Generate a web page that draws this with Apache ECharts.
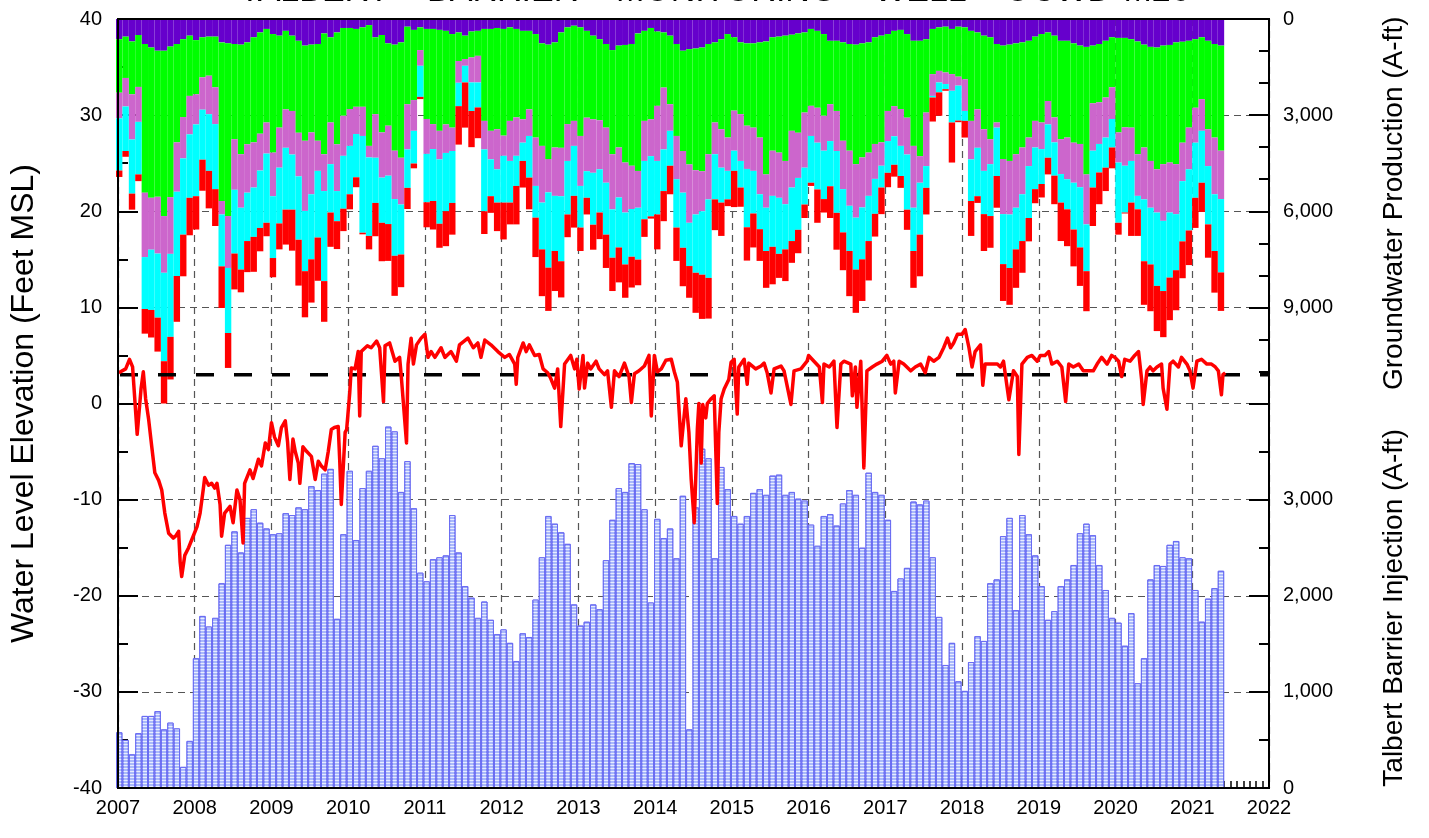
<!DOCTYPE html>
<html>
<head>
<meta charset="utf-8">
<script src="https://cdn.jsdelivr.net/npm/echarts@6/dist/echarts.min.js"></script>
<style>
html,body{margin:0;padding:0;background:#fff;}
#chart{width:1429px;height:838px;}
</style>
</head>
<body>
<div id="chart"></div>
<script>
// ---------- DATA ----------
const titleText = 'TALBERT    BARRIER    MONITORING    WELL    OCWD-M26';
const firstYear = 2007, lastYear = 2022;
const yearTicks = [2007,2008,2009,2010,2011,2012,2013,2014,2015,2016,2017,2018,2019,2020,2021,2022];
const referenceLevel = 3;

// Monthly groundwater production (A-ft), Jan 2007 - May 2021, stacked from top
const prodPurple = [630,550,700,500,780,890,990,990,860,780,630,520,
660,570,550,550,730,760,780,800,730,570,420,310,
470,520,370,520,680,830,800,780,450,570,420,280,
280,310,260,190,570,500,760,800,730,240,340,260,
310,310,340,370,470,420,520,390,370,310,310,280,
310,260,310,370,370,470,760,800,730,420,260,210,
260,370,520,630,780,970,830,810,780,450,370,280,
390,420,520,780,990,940,920,890,780,730,630,470,
570,730,760,760,730,700,570,550,520,490,450,420,
310,370,470,680,680,730,780,800,760,730,570,520,
470,370,340,470,680,680,630,310,260,240,310,240,
260,370,420,520,570,780,830,800,760,730,680,550,
470,420,520,680,680,760,830,870,830,780,680,570,
590,590,630,700,800,870,890,830,810,730,710,680,
630,570,680,780,830];
const prodGreen = [1670,1290,1650,1620,4640,4690,4560,5160,4700,3070,2430,1880,
1690,1250,1220,1580,4950,5390,2970,3420,3180,3280,3160,2920,
3700,2870,2450,2350,2870,2970,2740,3020,3770,2660,3490,2740,
2530,2430,2480,3770,2400,3040,2570,3310,3600,2420,2190,710,
2810,2970,3150,2920,2920,890,730,810,780,2870,3180,3160,
3330,2920,2760,2760,2450,3230,3200,3570,3280,3600,3020,2970,
3390,2710,2610,2530,2610,3250,3180,3670,3800,4290,2810,2850,
2320,1720,2140,2870,3130,3600,3800,3860,3440,2500,2810,3230,
2290,2240,2570,2630,2970,4150,3540,3620,3910,3000,3100,2500,
2400,2400,2550,1980,2190,3070,3330,3730,3560,3440,3330,3330,
2400,2350,2470,2610,3280,3600,2290,1410,1360,1430,1410,1560,
1620,2810,2400,2920,3180,2450,3540,3630,3460,3280,3020,2630,
2760,2140,2550,3070,3020,3100,3070,3980,1800,1820,1770,1560,
2950,2790,2760,3520,3210,3560,3800,3700,3670,3800,3150,2710,
2140,1930,2760,2920,3280];
const prodOrchid = [800,890,1410,1090,2010,1620,1770,1770,1770,1540,1290,1200,
940,1010,1200,1150,420,1620,1580,1670,1510,1410,1150,970,
1360,1250,1200,1360,1360,2190,1930,940,1150,1300,1460,1250,
1150,850,910,360,1360,1410,1560,1510,1460,1410,960,490,
1090,780,890,890,730,680,210,780,830,890,890,1250,
630,1250,1200,730,830,1510,1770,1040,1510,1510,1150,780,
1560,1670,1670,1530,1720,1720,1560,1560,1350,1150,1250,1150,
1720,1930,830,1350,1300,1820,1380,1250,1410,990,1200,1040,
1250,1460,1350,1350,1770,1040,1410,1410,1350,1770,1410,1720,
940,1090,1090,1150,1250,1510,1720,1670,1560,1350,1090,730,
940,940,1150,1150,1930,830,1670,680,360,360,520,280,
990,1200,1200,1300,780,160,1720,1670,1670,1460,890,830,
830,730,780,1090,1300,1250,1350,1560,1480,1300,1250,990,
940,1200,1040,1300,1620,1460,1350,1770,1560,1560,1200,1300,
1090,990,1150,1770,1510];
const prodCyan = [1630,1390,1690,1640,1620,1880,2000,2760,2590,2630,2380,1980,
2240,1560,1770,2030,1620,2030,1990,1930,1510,1540,1790,2160,
1930,1740,1930,1720,1980,1880,2030,2080,2810,1510,940,1650,
1510,1350,3020,2450,1410,1410,1510,1770,1560,1200,1020,970,
1510,1620,2010,1820,1620,730,520,890,780,1930,1150,1040,
1460,1300,940,570,1300,990,1460,2350,1720,2030,1670,1560,
1300,830,1620,1350,1620,1510,1560,1620,1490,1620,1820,1880,
1670,1300,1090,1510,1720,1350,1820,1980,2450,1410,1090,890,
630,830,1820,1330,1090,1350,1590,1750,1410,1670,1620,1150,
1460,1460,1510,1410,1930,1350,1410,1620,1620,1410,1090,680,
990,890,940,1720,1350,1620,680,50,310,160,990,1090,
310,1300,1510,1350,1620,1510,1560,1670,1300,1460,1620,1300,
1090,1040,1040,890,940,1460,1880,1460,1150,890,940,890,
1880,1460,1300,420,1930,1770,2290,2190,2030,1750,1880,1910,
1720,1620,1820,1770,2290];
const prodRed = [200,180,500,210,770,860,1060,1440,1330,1430,1300,1170,
1040,970,1170,1150,1300,1090,1120,710,970,1090,730,420,
600,810,1090,1280,1430,1440,1350,1350,1270,1070,870,700,
470,310,50,420,1040,1200,1150,1250,1020,660,150,70,
780,890,750,1090,990,1200,1410,1130,960,710,520,890,
1150,680,1200,830,990,1230,1460,1350,1250,1130,710,990,
730,520,780,830,1040,1040,1090,1040,960,800,550,70,
1090,940,890,1040,1200,990,1250,1380,1270,960,1040,210,
1130,600,1040,1060,990,1150,1170,750,990,680,730,420,
100,1040,420,990,1150,1180,1410,1350,1300,1230,710,830,
450,370,370,630,1150,1300,830,750,730,50,1250,50,
520,1090,210,1150,990,990,1150,1150,1200,990,730,440,
420,520,890,1200,1150,1150,1200,1250,1200,990,730,650,
370,30,1040,830,1360,1460,1410,1440,1330,1250,1150,1080,
940,910,1040,1300,1200];

// Monthly Talbert Barrier injection (A-ft), Jan 2007 - May 2021
const injection = [580,500,350,570,750,750,800,610,680,620,220,490,
1350,1790,1680,1770,2130,2530,2670,2450,2810,2900,2760,2700,
2640,2650,2860,2840,2920,2900,3140,3100,3270,3320,1760,2640,
3300,2580,3120,3300,3560,3430,3760,3710,3080,3400,2910,2240,
2150,2380,2400,2420,2840,2450,2100,1980,1770,1940,1750,1600,
1650,1510,1320,1610,1570,1960,2400,2830,2750,2660,2540,1910,
1690,1730,1910,1860,2370,2790,3120,3080,3380,3370,2900,1930,
2800,2600,2700,2390,3040,610,2920,3530,3430,2390,3340,3110,
2830,2750,2830,3070,3110,3050,3250,3260,3050,3080,3010,2990,
2740,2520,2830,2850,2730,2960,3100,3050,2500,3280,3080,3050,
2790,2050,2180,2290,2980,2950,2990,2400,1780,1280,1510,1110,
1010,1310,1580,1530,2130,2170,2620,2810,1850,2840,2640,2420,
2100,1750,1840,2100,2170,2320,2650,2750,2630,2320,2060,1770,
1720,1480,1820,1090,1350,2170,2320,2310,2530,2570,2400,2390,
2060,1730,1970,2080,2260];

// Water level elevation (feet MSL)
const wlYear = [2007.01,2007.10,2007.15,2007.19,2007.25,2007.30,2007.33,2007.36,2007.40,2007.44,2007.48,2007.53,2007.57,2007.61,2007.66,2007.72,2007.75,2007.79,2007.81,2007.83,2007.87,2007.92,2007.96,
2008.03,2008.07,2008.11,2008.13,2008.18,2008.22,2008.26,2008.29,2008.33,2008.35,2008.39,2008.46,2008.50,2008.55,2008.59,2008.63,2008.65,2008.72,2008.76,2008.83,2008.87,2008.92,2008.96,
2009.00,2009.04,2009.09,2009.13,2009.18,2009.21,2009.24,2009.28,2009.31,2009.35,2009.37,2009.41,2009.46,2009.52,2009.57,2009.61,2009.65,2009.70,2009.74,2009.78,2009.82,2009.87,2009.89,2009.91,2009.96,2009.98,
2010.02,2010.04,2010.09,2010.13,2010.15,2010.17,2010.25,2010.30,2010.37,2010.41,2010.46,2010.48,2010.54,2010.61,2010.67,2010.69,2010.76,2010.78,2010.82,2010.85,2010.89,2010.95,
2011.00,2011.04,2011.08,2011.13,2011.21,2011.26,2011.34,2011.41,2011.45,2011.56,2011.63,2011.69,2011.73,2011.78,2011.86,2011.95,
2012.04,2012.10,2012.17,2012.19,2012.21,2012.28,2012.32,2012.36,2012.43,2012.49,2012.54,2012.60,2012.64,2012.69,2012.73,2012.77,2012.82,2012.90,2012.95,2012.98,
2013.01,2013.06,2013.08,2013.12,2013.16,2013.23,2013.27,2013.34,2013.38,2013.43,2013.47,2013.53,2013.60,2013.66,2013.69,2013.73,2013.79,2013.86,2013.92,2013.95,2013.99,
2014.03,2014.08,2014.14,2014.21,2014.25,2014.29,2014.34,2014.40,2014.44,2014.47,2014.51,2014.55,2014.57,2014.60,2014.62,2014.66,2014.68,2014.73,2014.77,2014.79,2014.81,2014.83,2014.86,2014.90,2014.96,2014.99,
2015.03,2015.07,2015.09,2015.16,2015.20,2015.22,2015.31,2015.38,2015.42,2015.46,2015.51,2015.55,2015.64,2015.68,2015.77,2015.81,2015.90,2015.98,
2016.00,2016.07,2016.14,2016.18,2016.20,2016.27,2016.33,2016.37,2016.42,2016.46,2016.55,2016.57,2016.61,2016.63,2016.68,2016.72,2016.76,2016.83,2016.89,2016.96,
2017.02,2017.07,2017.11,2017.13,2017.18,2017.24,2017.33,2017.39,2017.46,2017.52,2017.57,2017.63,2017.70,2017.76,2017.81,2017.85,2017.89,2017.94,
2018.00,2018.04,2018.09,2018.13,2018.17,2018.24,2018.27,2018.30,2018.37,2018.46,2018.50,2018.54,2018.61,2018.67,2018.72,2018.74,2018.78,2018.85,2018.91,2018.98,
2019.02,2019.08,2019.13,2019.17,2019.24,2019.30,2019.35,2019.39,2019.45,2019.52,2019.58,2019.65,2019.71,2019.76,2019.82,2019.89,2019.95,2019.99,
2020.04,2020.08,2020.12,2020.19,2020.25,2020.30,2020.34,2020.36,2020.41,2020.45,2020.49,2020.54,2020.60,2020.62,2020.67,2020.71,2020.75,2020.82,2020.86,2020.93,2020.97,
2021.01,2021.06,2021.12,2021.19,2021.25,2021.30,2021.34,2021.38,2021.40,2021.43];
const wlLevel = [3.2,3.6,4.6,3.8,-3.2,1.5,3.3,0.5,-1.7,-4.5,-7.2,-8.0,-9.0,-11.4,-13.5,-14.0,-13.8,-13.3,-16.5,-18.0,-15.8,-15.0,-14.2,
-12.8,-11.4,-9.0,-7.7,-8.5,-8.3,-8.8,-8.3,-10.5,-13.8,-11.4,-10.7,-12.4,-9.0,-10.0,-14.5,-8.3,-6.9,-7.8,-5.8,-6.5,-4.1,-4.8,
-2.0,-3.5,-4.4,-2.5,-1.8,-4.0,-7.9,-3.7,-5.0,-6.2,-8.3,-4.5,-5.0,-5.5,-7.9,-6.0,-6.5,-6.9,-5.0,-2.7,-2.5,-2.4,-6.0,-10.5,-3.0,-2.7,
1.1,3.7,3.6,5.4,-1.3,5.4,6.0,5.8,6.5,5.8,0.2,6.0,6.3,4.4,4.8,3.0,-4.1,4.1,6.8,4.1,6.1,6.8,
7.2,4.8,5.4,4.8,5.8,4.8,5.4,4.4,6.1,6.8,5.8,6.3,4.8,6.6,6.1,5.4,
4.8,5.1,4.1,2.0,4.8,6.3,5.4,6.1,5.0,5.1,3.6,3.2,2.6,1.6,3.6,-2.4,4.1,5.0,3.6,4.6,
1.5,5.0,1.6,4.2,3.6,4.4,3.6,3.0,3.4,-0.4,3.4,2.8,4.2,2.8,0.1,3.1,3.4,3.9,5.0,-1.3,5.0,
3.3,3.6,4.5,4.6,3.3,2.2,-4.4,0.5,-3.0,-7.9,-12.4,-2.7,0.0,-6.2,-0.1,-1.5,0.0,0.5,0.8,1.0,-10.4,-3.0,0.5,1.5,2.5,4.3,
4.6,-1.1,3.8,4.6,2.0,4.2,3.6,3.9,4.2,3.2,1.1,3.6,3.9,3.4,-0.1,3.4,3.6,4.4,
5.0,4.4,3.8,0.1,4.1,3.8,4.4,-2.5,4.1,4.4,4.1,0.8,3.8,-0.4,4.4,-6.7,3.4,3.8,4.1,4.4,
5.0,4.1,4.4,1.1,4.4,4.1,3.4,3.8,4.1,3.2,4.8,4.4,4.8,5.8,6.8,5.8,6.3,7.2,
7.2,7.7,5.8,3.8,5.4,6.1,1.9,4.1,4.1,4.1,3.8,4.4,0.4,3.4,2.8,-5.3,4.1,4.8,5.0,4.4,
5.0,5.0,5.4,4.1,4.4,3.8,0.2,4.1,3.8,4.1,3.4,3.4,3.4,4.1,4.8,4.1,5.0,4.8,
4.4,2.8,4.6,4.4,5.0,5.4,2.5,-0.1,3.4,3.8,3.4,3.8,4.1,1.6,-0.6,4.1,4.4,3.8,4.8,4.1,3.4,
1.6,4.4,4.6,4.1,4.1,3.8,3.4,0.9,3.0,3.2];

// ---------- BUILD ----------
const months = [];
for (let y = firstYear; y < lastYear; y++) for (let m = 1; m <= 12; m++) months.push(y + '-' + (m < 10 ? '0' + m : m));
const wlData = wlYear.map((t, i) => [t, wlLevel[i]]);
const FONT = "'Liberation Sans', Arial, sans-serif";
const fmt = v => Math.round(v).toLocaleString('en-US');
const gridLine = {show: true, lineStyle: {color: '#555', type: [7, 5], width: 1.2}};

const W = 1429, H = 838;
const G = {left: 116, right: 160, top: 19, bottom: 50};
const plotH = H - G.top - G.bottom;
const halfH = plotH / 2;
const chart = echarts.init(document.getElementById('chart'), null, {renderer: 'canvas'});

function prodSeries(name, data, color) {
  return {name, type: 'bar', xAxisIndex: 1, yAxisIndex: 1, stack: 'prod', data,
    barCategoryGap: '0%', barGap: '0%', itemStyle: {color}, silent: true, z: 2, animation: false};
}

chart.setOption({
  animation: false,
  backgroundColor: '#fff',
  textStyle: {fontFamily: FONT, color: '#000'},
  title: {text: titleText, left: 'center', top: -25, padding: 0,
    textStyle: {fontFamily: FONT, fontSize: 34, fontWeight: 'normal', color: '#000'}},
  grid: [
    {left: G.left, right: G.right, top: G.top, bottom: G.bottom, show: true, borderColor: '#000', borderWidth: 2, backgroundColor: 'transparent', z: 10},
    {left: G.left, right: G.right, top: G.top, height: halfH},
    {left: G.left, right: G.right, top: G.top + halfH, height: halfH}
  ],
  xAxis: [
    {type: 'value', gridIndex: 0, min: firstYear, max: lastYear, interval: 1,
      axisLine: {show: true, onZero: false, lineStyle: {color: '#000', width: 2}},
      axisTick: {show: true, inside: true, length: 12, lineStyle: {color: '#000', width: 1.5}},
      minorTick: {show: true, splitNumber: 12, length: 7, lineStyle: {color: '#000', width: 1.5}},
      axisLabel: {fontSize: 20, margin: 10, color: '#000', fontFamily: FONT, formatter: v => String(v)},
      splitLine: gridLine},
    {type: 'category', gridIndex: 1, data: months, show: false, boundaryGap: true},
    {type: 'category', gridIndex: 2, data: months, show: false, boundaryGap: true}
  ],
  yAxis: [
    {type: 'value', gridIndex: 0, min: -40, max: 40, interval: 10, position: 'left',
      name: 'Water Level Elevation (Feet MSL)', nameLocation: 'middle', nameRotate: 90, nameGap: 78,
      nameTextStyle: {fontSize: 32, fontFamily: FONT, color: '#000'},
      axisLine: {show: true, onZero: false, lineStyle: {color: '#000', width: 2}},
      axisTick: {show: true, inside: true, length: 20, lineStyle: {color: '#000', width: 2}},
      minorTick: {show: true, splitNumber: 2, length: 10, lineStyle: {color: '#000', width: 2}},
      axisLabel: {fontSize: 20, margin: 16, color: '#000', fontFamily: FONT},
      splitLine: gridLine},
    {type: 'value', gridIndex: 1, min: 0, max: 12000, interval: 3000, inverse: true, position: 'right',
      name: 'Groundwater Production (A-ft)', nameLocation: 'middle', nameRotate: 90, nameGap: 111,
      nameTextStyle: {fontSize: 28, fontFamily: FONT, color: '#000', padding: [0, 0, 0, 16]},
      axisLine: {show: true, onZero: false, lineStyle: {color: '#000', width: 2}},
      axisTick: {show: true, inside: true, length: 20, lineStyle: {color: '#000', width: 2}},
      minorTick: {show: true, splitNumber: 3, length: 10, lineStyle: {color: '#000', width: 2}},
      axisLabel: {fontSize: 20, margin: 14, color: '#000', fontFamily: FONT, formatter: v => v === 12000 ? '' : fmt(v)},
      splitLine: {show: false}},
    {type: 'value', gridIndex: 2, min: 0, max: 4000, interval: 1000, position: 'right',
      name: 'Talbert Barrier Injection (A-ft)', nameLocation: 'middle', nameRotate: 90, nameGap: 111,
      nameTextStyle: {fontSize: 28, fontFamily: FONT, color: '#000', padding: [0, 24, 0, 0]},
      axisLine: {show: true, onZero: false, lineStyle: {color: '#000', width: 2}},
      axisTick: {show: true, inside: true, length: 20, lineStyle: {color: '#000', width: 2}},
      minorTick: {show: true, splitNumber: 2, length: 10, lineStyle: {color: '#000', width: 2}},
      axisLabel: {fontSize: 20, margin: 14, color: '#000', fontFamily: FONT, formatter: v => v === 4000 ? '' : fmt(v)},
      splitLine: {show: false}}
  ],
  series: [
    prodSeries('Purple', prodPurple, '#6600cc'),
    prodSeries('Green', prodGreen, '#00ff00'),
    prodSeries('Orchid', prodOrchid, '#cc66cc'),
    prodSeries('Cyan', prodCyan, '#00ffff'),
    prodSeries('Red', prodRed, '#ff0000'),
    {name: 'Injection', type: 'bar', xAxisIndex: 2, yAxisIndex: 2, data: injection,
      barCategoryGap: '0%', silent: true, z: 2,
      itemStyle: {color: '#a9b9fb', borderColor: '#6a6cf2', borderWidth: 1,
        decal: {symbol: 'rect', symbolSize: 1, dashArrayX: [[1, 0]], dashArrayY: [1, 2], rotation: 0, color: 'rgba(255,255,255,0.75)'}}},
    {name: 'Reference', type: 'line', xAxisIndex: 0, yAxisIndex: 0,
      data: [[firstYear, referenceLevel], [lastYear, referenceLevel]],
      showSymbol: false, symbol: 'none', silent: true, z: 3,
      lineStyle: {color: '#000', width: 3.5, type: [18, 20], dashOffset: -2}},
    {name: 'Water Level', type: 'line', xAxisIndex: 0, yAxisIndex: 0, data: wlData,
      showSymbol: false, symbol: 'none', silent: true, z: 4,
      lineStyle: {color: '#ff0000', width: 3.5, join: 'round'}}
  ]
});
</script>
</body>
</html>
